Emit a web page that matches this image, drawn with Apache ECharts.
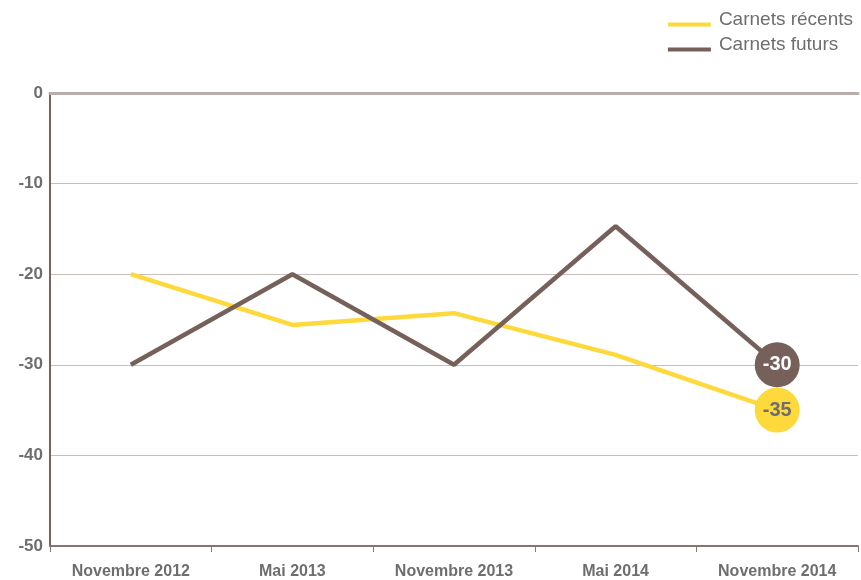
<!DOCTYPE html>
<html><head><meta charset="utf-8">
<script src="https://cdn.jsdelivr.net/npm/echarts@6/dist/echarts.min.js"></script>
<style>html,body{margin:0;padding:0;background:#fff}#c{width:861px;height:580px}</style>
</head><body><div id="c"></div>
<script>
var categories = ['Novembre 2012','Mai 2013','Novembre 2013','Mai 2014','Novembre 2014'];
var recents = [-20, -25.6, -24.3, -28.9, -35];
var futurs = [-30, -20, -30, -14.7, -30];
var yTicks = [0, -10, -20, -30, -40, -50];

var YELLOW = '#fdd93c', BROWN = '#76605a', GRAY = '#6e6e6e';
var FONT = '"Liberation Sans", Arial, sans-serif';

function build(vals, color, txtColor) {
  return vals.map(function (v, i) {
    if (i === vals.length - 1) {
      return {value: v, symbol: 'circle', symbolSize: 45,
        itemStyle: {color: color},
        label: {show: true, position: 'inside', color: txtColor, fontSize: 20, fontWeight: 'bold', fontFamily: FONT,
          formatter: function (p) { return Math.round(p.value); }}};
    }
    return {value: v, symbol: 'none'};
  });
}

var chart = echarts.init(document.getElementById('c'));
chart.setOption({
  animation: false,
  legend: {
    right: 3, top: 5, orient: 'vertical', itemGap: -4, itemWidth: 43, itemHeight: 4,
    icon: 'rect', align: 'left',
    formatter: function (n) { return '{a|' + n + '}'; },
    textStyle: {color: GRAY, fontSize: 19, fontFamily: FONT,
      rich: {a: {color: GRAY, fontSize: 19, fontFamily: FONT, lineHeight: 18, padding: [0, 0, 10, 3]}}},
    data: [{name: 'Carnets récents', itemStyle: {color: YELLOW}}, {name: 'Carnets futurs', itemStyle: {color: BROWN}}]
  },
  grid: {left: 50, right: 3, top: 93, bottom: 32, containLabel: false},
  xAxis: [{
    type: 'category', data: categories, boundaryGap: true, position: 'bottom',
    axisLine: {show: true, onZero: false, lineStyle: {color: '#8a756e', width: 2}},
    axisTick: {show: true, interval: 0, length: 6, lineStyle: {color: '#8a756e', width: 1}},
    axisLabel: {interval: 0, color: GRAY, fontSize: 16, fontWeight: 'bold', fontFamily: FONT, margin: 18}
  }, {
    type: 'category', data: categories, position: 'top',
    axisLine: {show: true, onZero: false, lineStyle: {color: '#b9aeaa', width: 3}},
    axisTick: {show: false}, axisLabel: {show: false}
  }],
  yAxis: {
    type: 'value', min: -50, max: 0, interval: 10,
    axisLine: {show: true, lineStyle: {color: '#7a6259', width: 2}},
    axisTick: {show: false},
    splitLine: {show: true, lineStyle: {color: '#c8bebb', width: 1}},
    axisLabel: {color: GRAY, fontSize: 17, fontWeight: 'bold', fontFamily: FONT, margin: 7,
      padding: [0, 0, 8, 0],
      formatter: function (v) { return yTicks.indexOf(v) >= 0 ? String(v) : ''; }}
  },
  series: [{
    name: 'Carnets récents', type: 'line', data: build(recents, YELLOW, '#6e6e6e'),
    lineStyle: {color: YELLOW, width: 4.5}, itemStyle: {color: YELLOW}, z: 3
  }, {
    name: 'Carnets futurs', type: 'line', data: build(futurs, BROWN, '#ffffff'),
    lineStyle: {color: BROWN, width: 4.5}, itemStyle: {color: BROWN}, z: 4
  }]
});
</script></body></html>
